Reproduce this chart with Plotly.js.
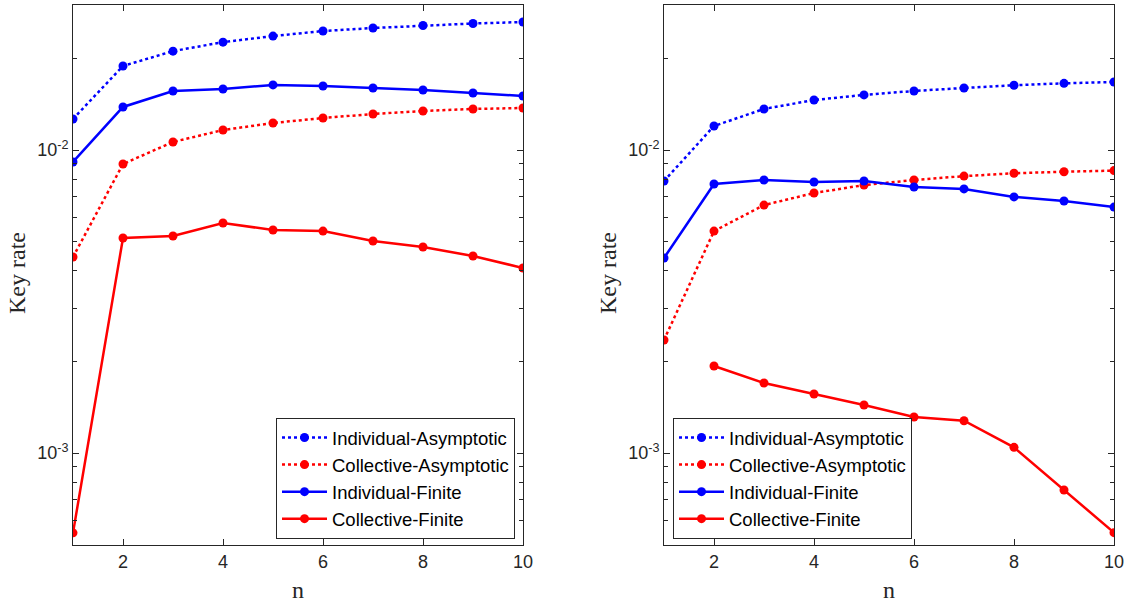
<!DOCTYPE html>
<html><head><meta charset="utf-8">
<script src="https://cdn.plot.ly/plotly-3.0.1.min.js"></script>
<style>body{margin:0;background:#fff}#c{width:1128px;height:606px}</style>
</head><body><div id="c"></div>
<script>
const n = [1,2,3,4,5,6,7,8,9,10];
const seriesNames = ['Individual-Asymptotic','Collective-Asymptotic','Individual-Finite','Collective-Finite'];
// Left panel
const leftIndAsym = [0.01266,0.01894,0.0212,0.0227,0.02377,0.0247,0.02527,0.02576,0.02615,0.02645];
const leftColAsym = [0.004435,0.00899,0.01063,0.01164,0.01228,0.01275,0.01315,0.01345,0.01366,0.01376];
const leftIndFin  = [0.00913,0.01387,0.01566,0.0159,0.0164,0.01626,0.01602,0.01578,0.01542,0.01508];
const leftColFin  = [0.000545,0.005124,0.0052,0.005742,0.005445,0.0054,0.005008,0.004785,0.004468,0.004079];
// Right panel
const rightIndAsym = [0.0079,0.0120,0.01366,0.01462,0.0152,0.01566,0.01602,0.01636,0.0166,0.01677];
const rightColAsym = [0.00236,0.0054,0.00658,0.00721,0.00766,0.00796,0.0082,0.00838,0.00848,0.00855];
const rightIndFin  = [0.0044,0.00772,0.00796,0.00784,0.0079,0.00755,0.00744,0.0070,0.00679,0.00648];
const rightColFin  = [null,0.001937,0.001702,0.001566,0.00144,0.001315,0.001278,0.001044,0.000755,0.000546];

const xTicks = [2,4,6,8,10];
const yMajor = [0.001,0.01];
const yMajorText = ['10<sup>-3</sup>','10<sup>-2</sup>'];
const yMinor = [0.0005,0.0006,0.0007,0.0008,0.0009,0.002,0.003,0.004,0.005,0.006,0.007,0.008,0.009,0.02,0.03];

const BLUE='#0000ff', RED='#ff0000', AX='#262626';
function tr(x,y,name,color,dash,xa,ya,leg){
  return {x:x,y:y,name:name,type:'scatter',mode:'lines+markers',xaxis:xa,yaxis:ya,legend:leg,
    line:{color:color,width:2.5,dash:dash},marker:{color:color,size:9},connectgaps:false};
}
const data = [
  tr(n,leftIndAsym,seriesNames[0],BLUE,'dot','x','y','legend'),
  tr(n,leftColAsym,seriesNames[1],RED,'dot','x','y','legend'),
  tr(n,leftIndFin,seriesNames[2],BLUE,'solid','x','y','legend'),
  tr(n,leftColFin,seriesNames[3],RED,'solid','x','y','legend'),
  tr(n,rightIndAsym,seriesNames[0],BLUE,'dot','x2','y2','legend2'),
  tr(n,rightColAsym,seriesNames[1],RED,'dot','x2','y2','legend2'),
  tr(n,rightIndFin,seriesNames[2],BLUE,'solid','x2','y2','legend2'),
  tr(n,rightColFin,seriesNames[3],RED,'solid','x2','y2','legend2')
];
const W=1128,H=606;
const yDom=[1-545/H,1-5/H];
const tickFont={family:'Liberation Sans, Arial',size:18,color:AX};
function xax(dom){return {domain:dom,range:[1,10],tickvals:xTicks,ticks:'inside',ticklen:6,tickcolor:AX,
  showline:true,linecolor:AX,linewidth:1,mirror:'ticks',showgrid:false,zeroline:false,
  tickfont:tickFont,fixedrange:true};}
function yax(anchor){return {domain:yDom,anchor:anchor,type:'log',range:[Math.log10(0.000497),Math.log10(0.0301)],
  tickvals:yMajor,ticktext:yMajorText,ticks:'inside',ticklen:6,tickcolor:AX,
  minor:{tickvals:yMinor,ticks:'inside',ticklen:4,tickcolor:AX,showgrid:false},
  showline:true,linecolor:AX,linewidth:1,mirror:'ticks',showgrid:false,zeroline:false,
  tickfont:tickFont,fixedrange:true};}
const legStyle = {bgcolor:'#ffffff',bordercolor:AX,borderwidth:1,font:{family:'Liberation Sans, Arial',size:18.5,color:'#000'},
  yanchor:'bottom',traceorder:'normal',itemwidth:45};
const titleFont={family:'Liberation Serif, Times New Roman',size:24,color:AX};
const layout = {
  width:W,height:H,margin:{l:0,r:0,t:0,b:0},paper_bgcolor:'#fff',plot_bgcolor:'#fff',
  showlegend:true,
  xaxis:Object.assign(xax([73/W,523/W]),{anchor:'y'}),
  yaxis:yax('x'),
  xaxis2:Object.assign(xax([664/W,1114/W]),{anchor:'y2'}),
  yaxis2:yax('x2'),
  legend:Object.assign({},legStyle,{x:515/W,xanchor:'right',y:1-539/H}),
  legend2:Object.assign({},legStyle,{x:673/W,xanchor:'left',y:1-539/H}),
  annotations:[
    {text:'Key rate',xref:'paper',yref:'paper',x:17/W,y:1-273/H,textangle:-90,showarrow:false,font:titleFont,xanchor:'center',yanchor:'middle'},
    {text:'Key rate',xref:'paper',yref:'paper',x:608/W,y:1-273/H,textangle:-90,showarrow:false,font:titleFont,xanchor:'center',yanchor:'middle'},
    {text:'n',xref:'paper',yref:'paper',x:298/W,y:1-590/H,showarrow:false,font:titleFont,xanchor:'center',yanchor:'middle'},
    {text:'n',xref:'paper',yref:'paper',x:889/W,y:1-590/H,showarrow:false,font:titleFont,xanchor:'center',yanchor:'middle'}
  ]
};
Plotly.newPlot('c',data,layout,{displayModeBar:false,staticPlot:true});
</script></body></html>
